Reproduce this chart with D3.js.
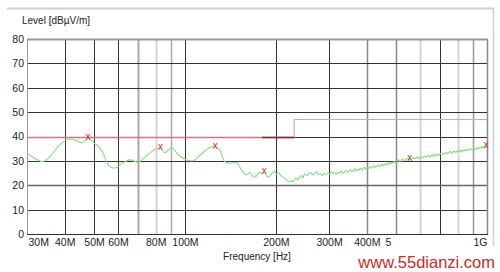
<!DOCTYPE html>
<html><head><meta charset="utf-8">
<script src="https://cdn.jsdelivr.net/npm/d3@7"></script>
<style>
html,body{margin:0;padding:0;background:#fff;}
svg{display:block;font-family:"Liberation Sans",Arial,sans-serif;}
</style></head>
<body>
<svg id="c" width="500" height="272"></svg>
<script>
// ---- data ----
const yTicks = [0, 10, 20, 30, 40, 50, 60, 70, 80];
const gridFreqs = [40, 50, 60, 70, 80, 90, 100, 200, 300, 400, 500, 600, 700, 800, 900];
const xTickFreqs = [30, 40, 50, 60, 80, 100, 200, 300, 400, 500, 1000];
const xTickLabels = ["30M", "40M", "50M", "60M", "80M", "100M", "200M", "300M", "400M", "5", "1G"];

const traceFreq = [30, 30.3, 31.9, 33.8, 35.7, 38.0, 40.0, 42.6, 45.5, 47.2, 47.8, 50.2, 52.9, 55.0, 56.4, 59.3, 62.4, 65.7, 70.0, 74.5, 79.4, 83.0, 85.7, 90.3, 95.2, 100.3, 106.7, 112.3, 119.7, 125.9, 130.3, 135.4, 140.6, 148.0, 153.8, 159.8, 163.8,
 168, 171, 174, 177, 180, 183, 186, 189, 192, 195, 198, 201, 204, 207, 210, 213, 216, 219, 222, 225, 228, 231, 234, 237, 240, 243, 246, 249,
 253, 257, 261, 265, 269, 273, 277, 281, 285, 289, 293, 297, 301, 305, 309, 313, 317, 321, 325, 329, 333, 337, 341, 345, 349, 353, 357, 361, 365, 369, 373, 377,
 381, 385, 389, 393, 397, 401, 405, 409, 413, 417, 421, 425, 429, 433, 437, 441, 445, 449, 453, 457, 461, 465, 469, 473, 477, 481, 485, 489, 493, 497,
 503, 509, 515, 521, 527, 533, 539, 545, 551, 557, 563, 569, 575, 581, 587, 593, 599, 605, 611, 617, 623, 629, 635, 641, 647, 653, 659, 665, 671, 677, 683, 689, 695, 701,
 709, 717, 725, 733, 741, 749, 757, 765, 773, 781, 789, 797, 805, 813, 821, 829, 837, 845, 853, 861, 869, 877, 885, 893, 901, 909, 917, 925, 933, 941, 949, 957, 965, 973, 981, 989, 997, 1000];
const traceLevel = [32.9, 32.7, 31.0, 29.7, 31.7, 35.8, 38.3, 38.8, 37.5, 38.6, 39.2, 37.2, 34.5, 29.7, 27.6, 27.2, 29.3, 30.4, 29.5, 32.0, 34.7, 35.2, 33.4, 35.4, 32.4, 30.6, 30.1, 32.4, 35.2, 35.9, 34.5, 29.7, 29.0, 29.3, 26.3, 24.2, 25.2,
 23.7, 23.4, 24.6, 25.3, 24.7, 25.6, 24.0, 23.3, 24.2, 25.1, 25.9, 24.5, 25.2, 24.1, 23.5, 23.0, 22.3, 21.7, 21.4, 21.9, 21.5, 22.6, 22.8, 22.3, 23.4, 23.9, 23.1, 24.7,
 23.9, 24.8, 25.3, 24.2, 24.9, 25.5, 24.4, 24.7, 23.9, 24.8, 24.3, 25.1, 24.6, 25.6, 24.8, 25.2, 24.4, 25.4, 25.0, 25.9, 24.9, 25.5, 26.1, 25.3, 25.8, 26.4, 25.6, 26.0, 26.7, 25.9, 26.5, 26.2,
 27.1, 26.3, 26.9, 27.4, 26.6, 27.2, 26.8, 27.7, 27.0, 27.5, 27.9, 27.2, 28.1, 27.6, 28.3, 27.8, 28.0, 28.7, 27.9, 28.5, 28.9, 28.2, 29.0, 28.6, 29.3, 28.8, 29.5, 29.1, 29.8, 29.2,
 29.9, 30.4, 29.7, 30.3, 30.8, 30.1, 30.6, 31.1, 30.4, 31.0, 30.7, 31.4, 30.8, 31.2, 31.7, 30.9, 31.5, 31.2, 31.8, 31.3, 32.0, 31.5, 31.9, 32.3, 31.6, 32.2, 32.6, 31.9, 32.4, 32.8, 32.1, 32.7, 32.4, 33.0,
 32.5, 33.2, 32.8, 33.5, 33.0, 33.4, 33.9, 33.1, 33.7, 34.0, 33.4, 34.1, 33.8, 34.3, 33.7, 34.4, 34.0, 34.6, 34.1, 34.8, 34.3, 34.7, 35.1, 34.5, 35.0, 34.6, 35.3, 34.9, 35.5, 35.0, 35.6, 35.2, 35.8, 35.3, 35.9, 35.5, 36.1, 35.9];

const markerFreq = [47.8, 83.0, 125.9, 183, 555, 995];
const markerLevel = [39.9, 35.6, 36.2, 26.0, 31.3, 36.5];

const limitFreq = [30, 230, 230, 1000];
const limitLevel = [40, 40, 47, 47];
const limitDarkFreq = [180, 230];
const limitDarkLevel = [40, 40];

// ---- layout ----
const svg = d3.select("#c");
const L = 27, R = 487, T = 39, B = 234;
const x = d3.scaleLog().domain([30, 1000]).range([L, R]);
const y = d3.scaleLinear().domain([0, 80]).range([B, T]);
const px = v => Math.round(v) + 0.5;

// outer frame (top & right)
svg.append("line").attr("x1", 7).attr("x2", 493.5).attr("y1", 8.5).attr("y2", 8.5).attr("stroke", "#d0d0d0").attr("stroke-width", 2);
svg.append("line").attr("x1", 493.5).attr("x2", 493.5).attr("y1", 8).attr("y2", 246).attr("stroke", "#d0d0d0").attr("stroke-width", 1.5);

// vertical grid styles
const vStyle = {40:["#333",1],50:["#333",1],60:["#333",1],70:["#aaa",2],80:["#d4d4d4",2],90:["#aaa",1.5],100:["#333",1],
  200:["#333",1],300:["#333",1],400:["#888",1.5],500:["#888",1.5],600:["#d4d4d4",2],700:["#333",1],800:["#d4d4d4",2],900:["#999",1.5]};
const gGrid = svg.append("g");
gGrid.selectAll("line.v").data(gridFreqs).join("line")
  .attr("x1", d => px(x(d))).attr("x2", d => px(x(d)))
  .attr("y1", T).attr("y2", B)
  .attr("stroke", d => vStyle[d][0]).attr("stroke-width", d => vStyle[d][1]);
gGrid.selectAll("line.h").data(yTicks.filter(d => d > 0 && d < 80)).join("line")
  .attr("x1", L).attr("x2", R)
  .attr("y1", d => px(y(d))).attr("y2", d => px(y(d)))
  .attr("stroke", d => d === 20 ? "#666" : "#333").attr("stroke-width", d => d === 20 ? 1.5 : 1);

// plot borders
svg.append("line").attr("x1", L).attr("x2", R+1).attr("y1", px(T)).attr("y2", px(T)).attr("stroke", "#999").attr("stroke-width", 2);
svg.append("line").attr("x1", px(L)).attr("x2", px(L)).attr("y1", T).attr("y2", B+1).attr("stroke", "#999").attr("stroke-width", 1);
svg.append("line").attr("x1", px(R)).attr("x2", px(R)).attr("y1", T).attr("y2", B+1).attr("stroke", "#888").attr("stroke-width", 1.5);
svg.append("line").attr("x1", L).attr("x2", R+1).attr("y1", px(B)).attr("y2", px(B)).attr("stroke", "#333").attr("stroke-width", 1);

// axes labels (via d3 axes, styled)
const yAxis = svg.append("g").attr("transform", `translate(${L},0)`)
  .call(d3.axisLeft(y).tickValues(yTicks).tickSize(0).tickPadding(3).tickFormat(d3.format("d")));
yAxis.select(".domain").remove();
yAxis.selectAll("text").attr("font-size", 10.5).attr("fill", "#222").attr("font-family", "Liberation Sans, Arial, sans-serif");

const xAxis = svg.append("g").attr("transform", `translate(0,${B})`)
  .call(d3.axisBottom(x).tickValues(xTickFreqs).tickSize(0).tickPadding(5)
    .tickFormat((d, i) => xTickLabels[i]));
xAxis.select(".domain").remove();
xAxis.selectAll("text").attr("font-size", 10.5).attr("fill", "#222").attr("font-family", "Liberation Sans, Arial, sans-serif")
  .attr("text-anchor", (d, i) => i === 0 || i === 9 ? "start" : (i === xTickLabels.length - 1 ? "end" : "middle"))
  .attr("dx", (d, i) => i === 0 ? 1 : (i === 9 ? -11 : 0));

svg.append("text").attr("x", 22).attr("y", 24).attr("font-size", 10).attr("fill", "#222").text("Level [dBµV/m]");
svg.append("text").attr("x", 257).attr("y", 260).attr("text-anchor", "middle").attr("font-size", 10).attr("fill", "#222").text("Frequency [Hz]");

// limit lines
const lim = d3.line().x(d => x(d[0])).y(d => px(y(d[1])));
svg.append("path").datum(limitFreq.slice(0,2).map((f, i) => [f, limitLevel[i]]))
  .attr("d", lim).attr("fill", "none").attr("stroke", "#e07078").attr("stroke-width", 1.3);
svg.append("path").datum(limitFreq.slice(1).map((f, i) => [f, limitLevel[i+1]]))
  .attr("d", lim).attr("fill", "none").attr("stroke", "#e8a0a8").attr("stroke-width", 1.2);
svg.append("path").datum(limitDarkFreq.map((f, i) => [f, limitDarkLevel[i]]))
  .attr("d", lim).attr("fill", "none").attr("stroke", "#7a2a30").attr("stroke-width", 1.3);

// trace
const traceData = traceFreq.map((f, i) => [f, traceLevel[i]]);
svg.append("path").datum(traceData)
  .attr("d", d3.line().x(d => x(d[0])).y(d => y(d[1])).curve(d3.curveCatmullRom))
  .attr("fill", "none").attr("stroke", "#88dc88").attr("stroke-width", 1.1);

// markers
svg.selectAll("text.mk").data(markerFreq.map((f, i) => [f, markerLevel[i]])).join("text")
  .attr("x", d => x(d[0])).attr("y", d => y(d[1]) + 3)
  .attr("text-anchor", "middle").attr("font-size", 10).attr("fill", "#c8342a").text("x");

// watermark
svg.append("text").attr("x", 495).attr("y", 268).attr("text-anchor", "end")
  .attr("font-size", 16.5).attr("fill", "#d02828").attr("font-family", "Liberation Sans, Arial, sans-serif")
  .text("www.55dianzi.com");
</script>
</body></html>
